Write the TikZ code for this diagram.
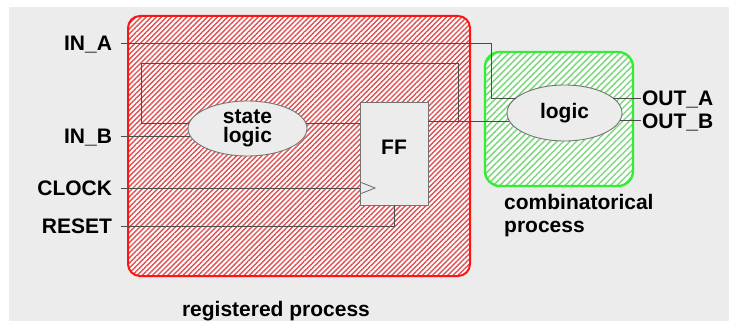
\documentclass[tikz,border=0pt]{standalone}
\usepackage{fontspec}
\setmainfont{Liberation Sans}
\usetikzlibrary{shapes.geometric,patterns.meta}
\definecolor{pagegray}{HTML}{ECECEC}
\definecolor{regred}{HTML}{FF1414}
\definecolor{hatchred}{HTML}{E05050}
\definecolor{combgreen}{HTML}{30EE30}
\definecolor{hatchgreen}{HTML}{80D880}
\colorlet{wirecolor}{black!70}
\colorlet{edgecolor}{black!55}

\begin{document}
\begin{tikzpicture}[x=1pt, y=-1pt,
  lbl/.style={font=\fontsize{21}{23}\selectfont\bfseries, inner sep=0pt},
  port/.style={lbl, text height=15pt, text depth=0pt, outer xsep=9pt},
  blob/.style={ellipse, draw=edgecolor, fill=pagegray, line width=0.9pt, outer sep=0pt,
               align=center, font=\fontsize{21}{19}\selectfont\bfseries, inner sep=0pt},
  ffbox/.style={rectangle, draw=edgecolor, fill=pagegray, line width=0.9pt, outer sep=0pt,
                minimum width=68, minimum height=103},
  regbox/.style={draw=regred, line width=2pt, rounded corners=12pt, preaction={fill=white},
                 pattern={Lines[angle=45, distance=3.6pt, line width=1.4pt]}, pattern color=hatchred},
  combbox/.style={draw=combgreen, line width=2.4pt, rounded corners=15pt, preaction={fill=white},
                  pattern={Lines[angle=45, distance=4.6pt, line width=1.5pt]}, pattern color=hatchgreen},
  wire/.style={draw=wirecolor, line width=0.9pt}
]

% page and the two process areas
\fill[white] (0,0) rectangle (729,321);
\fill[pagegray] (9,7) rectangle (729,321);
\path[regbox] (128,16) rectangle (470,276);
\path[combbox] (485,52) rectangle (633,186);

% blocks
\node[blob, minimum width=119, minimum height=55] (stl) at (247.5,128.5) {state\\logic};
\node[ffbox, label={[lbl, yshift=6pt]center:FF}] (ff) at (394,153.5) {};
\node[blob, minimum width=115, minimum height=56] (logic) at (564.5,113) {logic};

% ports
\node[port, anchor=east] (inA) at (121,43) {IN\_A};
\node[port, anchor=east] (inB) at (121,136) {IN\_B};
\node[port, anchor=east] (clk) at (121,188) {CLOCK};
\node[port, anchor=east] (rst) at (121,226) {RESET};
\node[port, anchor=west, outer xsep=1pt] (outA) at (641,98) {OUT\_A};
\node[port, anchor=west, outer xsep=1pt] (outB) at (641,121) {OUT\_B};

\coordinate (turnA) at (491,0);
\coordinate (ffq) at (428,121);
\coordinate (loopR) at (458,0);
\coordinate (loopL) at (141,63);

% wiring
\draw[wire] (inA.east) -| (turnA |- logic.163) -- (logic.163);
\draw[wire] (inB.east) -- (inB.east -| stl.187);
\draw[wire] (stl.5) -- (stl.5 -| ff.west);
\draw[wire] (ffq) -- (ffq -| logic.188);
\draw[wire] (ffq -| loopR) |- (loopL) |- (stl.175);
\draw[wire] (clk.east) -- (clk.east -| ff.west);
\draw[draw=edgecolor, line width=0.9pt] (ff.west |- clk) ++(0,-6) -- ++(15,6) -- ++(-15,6);
\draw[wire] (rst.east) -| (ff.south);
\draw[wire] (logic.17) -- (logic.17 -| outA.west);
\draw[wire] (logic.352) -- (logic.352 -| outB.west);

% captions
\node[lbl, anchor=west, align=left] (combcap) at (504,216) {combinatorical\\process};
\node[lbl] (regcap) at (276,311) {registered process};
\end{tikzpicture}
\end{document}
